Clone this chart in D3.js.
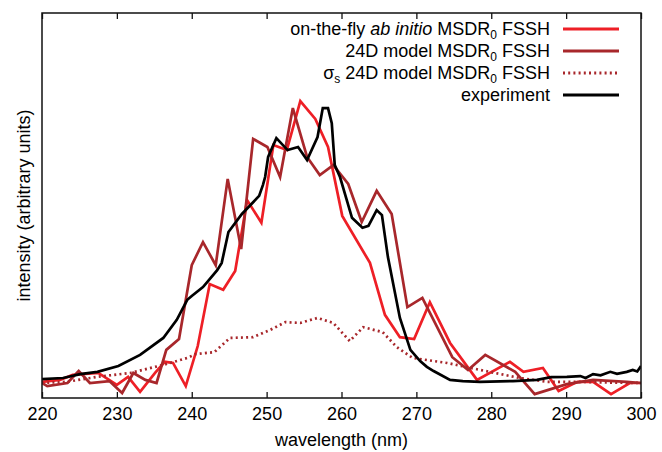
<!DOCTYPE html>
<html>
<head>
<meta charset="utf-8">
<script src="https://cdn.jsdelivr.net/npm/d3@7"></script>
<style>
  body { margin: 0; background: #fff; }
  text { font-family: "Liberation Sans", Arial, sans-serif; fill: #000; }
</style>
</head>
<body>
<div id="chart"></div>
<script>
// wavelength (nm) / intensity (arbitrary units, 0-100)
const onTheFlyNm = [220.0, 222.4, 224.1, 227.5, 230.0, 231.5, 233.1, 235.1, 236.4, 237.5, 239.2, 240.8,
  242.4, 244.2, 245.8, 247.4, 249.3, 250.9, 252.7, 254.5, 256.5, 258.2, 260.1, 263.8, 265.8, 267.8,
  269.7, 271.8, 274.5, 278.1, 282.5, 284.3, 286.9, 289.0, 291.5, 293.6, 296.0, 298.5, 300.0];
const onTheFlyI = [4.2, 4.7, 6.0, 6.5, 3.4, 5.5, 1.6, 6.5, 9.4, 9.1, 3.1, 13.5,
  29.6, 28.1, 33.0, 51.4, 45.5, 65.7, 64.4, 77.1, 72.5, 65.2, 47.3, 35.1, 21.6, 15.8,
  15.3, 24.9, 14.3, 4.7, 9.4, 6.8, 7.8, 1.8, 4.2, 4.2, 1.0, 3.9, 3.9];

const model24Nm = [220.0, 220.7, 223.4, 224.9, 226.4, 229.0, 230.7, 232.2, 233.8, 235.3, 236.6, 238.3,
  240.0, 241.5, 243.2, 244.8, 246.6, 248.2, 250.1, 251.8, 253.5, 255.4, 257.1, 258.9, 260.9, 262.7,
  264.7, 266.7, 268.8, 270.8, 274.8, 276.9, 279.2, 283.2, 285.8, 290.1, 293.6, 298.1, 300.0];
const model24I = [3.9, 3.1, 3.9, 7.0, 3.9, 4.4, 1.3, 6.5, 4.7, 3.9, 12.5, 15.3,
  34.5, 40.5, 34.5, 56.9, 38.7, 67.3, 65.2, 57.4, 75.3, 62.6, 57.9, 60.5, 55.6, 45.7,
  53.8, 47.8, 23.6, 26.0, 10.6, 7.3, 11.2, 6.8, 1.0, 3.6, 4.7, 4.2, 3.9];

const sigmaNm = [220.0, 223.3, 227.4, 231.8, 236.2, 239.4, 240.5, 243.0, 245.1, 248.2, 250.5, 252.5,
  254.5, 256.8, 258.9, 261.1, 262.9, 265.5, 267.4, 269.5, 274.1, 278.5, 283.8, 287.5, 291.9, 296.0, 300.0];
const sigmaI = [3.9, 4.2, 5.5, 6.5, 8.6, 10.4, 11.4, 11.9, 15.6, 15.8, 17.7, 19.7,
  19.5, 20.8, 19.5, 14.8, 18.4, 17.1, 13.2, 10.4, 9.1, 7.3, 5.2, 4.2, 4.2, 4.0, 3.9];

const exptNm = [220.0, 222.8, 225.1, 227.4, 230.2, 233.1, 236.2, 238.0, 239.4, 240.0, 241.5, 242.2,
  243.4, 244.0, 244.9, 246.7, 249.0, 249.5, 249.8, 250.2, 251.3, 252.8, 254.2, 255.4, 256.8, 257.5,
  258.2, 258.7, 259.1, 259.8, 261.4, 262.8, 263.6, 264.7, 265.4, 266.2, 267.8, 269.2, 270.5, 271.4,
  272.3, 274.5, 276.2, 278.5, 282.9, 286.1, 288.0, 290.1, 291.9, 292.6, 293.6, 294.6, 295.9, 296.8,
  298.1, 298.9, 299.5, 300.0];
const exptI = [4.9, 5.2, 6.2, 6.8, 8.3, 11.2, 15.6, 20.3, 25.5, 26.5, 28.8, 30.4,
  33.2, 35.1, 43.1, 47.8, 52.5, 55.3, 57.4, 62.6, 67.5, 64.4, 65.2, 61.8, 67.8, 75.3,
  75.3, 71.4, 60.5, 57.4, 46.8, 44.2, 44.7, 48.8, 47.5, 36.6, 20.8, 12.5, 9.6, 8.1,
  7.0, 4.7, 4.4, 4.2, 4.4, 4.7, 5.4, 5.5, 5.7, 5.2, 6.2, 5.9, 6.8, 6.3,
  6.8, 7.3, 6.9, 8.3];

const xTicks = [220, 230, 240, 250, 260, 270, 280, 290, 300];

const series = [
  { name: "fly", nm: onTheFlyNm, val: onTheFlyI, color: "#ee1f26", dash: null },
  { name: "model", nm: model24Nm, val: model24I, color: "#a8272b", dash: null },
  { name: "sigma", nm: sigmaNm, val: sigmaI, color: "#a8272b", dash: "2,3.2" },
  { name: "expt", nm: exptNm, val: exptI, color: "#000000", dash: null }
];

const W = 662, H = 452;
const margin = { top: 13, right: 21, bottom: 54, left: 42 };
const width = W - margin.left - margin.right,
      height = H - margin.top - margin.bottom;

const svg = d3.select("#chart").append("svg")
  .attr("width", W).attr("height", H);

const g = svg.append("g")
  .attr("transform", `translate(${margin.left},${margin.top})`);

const x = d3.scaleLinear().domain([220, 300]).range([0, width]);
const y = d3.scaleLinear().domain([0, 100]).range([height, 0]);

g.append("clipPath").attr("id", "plotclip")
  .append("rect").attr("width", width).attr("height", height);

// curves
const line = d3.line().x(d => x(d[0])).y(d => y(d[1]));
g.append("g").attr("clip-path", "url(#plotclip)")
  .selectAll("path")
  .data(series)
  .enter().append("path")
  .attr("d", s => line(s.nm.map((n, i) => [n, s.val[i]])))
  .attr("fill", "none")
  .attr("stroke", s => s.color)
  .attr("stroke-width", 2.7)
  .attr("stroke-linejoin", "miter")
  .attr("stroke-dasharray", s => s.dash);

// frame
g.append("rect")
  .attr("width", width).attr("height", height)
  .attr("fill", "none").attr("stroke", "#111").attr("stroke-width", 1.5);

// ticks (inward, top and bottom)
g.append("g")
  .attr("transform", `translate(0,${height})`)
  .call(d3.axisBottom(x).tickValues(xTicks).tickSizeInner(-6).tickSizeOuter(0).tickPadding(9))
  .call(a => a.select(".domain").remove())
  .call(a => a.selectAll("line").attr("stroke", "#111").attr("stroke-width", 1.3))
  .call(a => a.selectAll("text").attr("font-size", 18).attr("fill", "#000")
    .style("font-family", "'Liberation Sans', Arial, sans-serif"));

g.append("g")
  .call(d3.axisTop(x).tickValues(xTicks).tickSizeInner(-6).tickSizeOuter(0).tickFormat(""))
  .call(a => a.select(".domain").remove())
  .call(a => a.selectAll("line").attr("stroke", "#111").attr("stroke-width", 1.3));

// axis titles
svg.append("text")
  .attr("x", margin.left + width / 2).attr("y", 446)
  .attr("text-anchor", "middle").attr("font-size", 18)
  .text("wavelength (nm)");

svg.append("text")
  .attr("transform", `translate(30,${margin.top + height / 2}) rotate(-90)`)
  .attr("text-anchor", "middle").attr("font-size", 18)
  .text("intensity (arbitrary units)");

// legend
const legend = svg.append("g");
const rows = [
  { key: "fly", y: 35 },
  { key: "model", y: 57 },
  { key: "sigma", y: 79 },
  { key: "expt", y: 101 }
];
const textX = 550, lineX0 = 563, lineX1 = 619;

rows.forEach(r => {
  const s = series.find(d => d.name === r.key);
  const t = legend.append("text")
    .attr("x", textX).attr("y", r.y)
    .attr("text-anchor", "end").attr("font-size", 18);
  if (r.key === "fly") {
    t.append("tspan").text("on-the-fly ");
    t.append("tspan").attr("font-style", "italic").text("ab initio");
    t.append("tspan").text(" MSDR");
    t.append("tspan").attr("font-size", 12).attr("dy", 4).text("0");
    t.append("tspan").attr("dy", -4).text(" FSSH");
  } else if (r.key === "model") {
    t.append("tspan").text("24D model MSDR");
    t.append("tspan").attr("font-size", 12).attr("dy", 4).text("0");
    t.append("tspan").attr("dy", -4).text(" FSSH");
  } else if (r.key === "sigma") {
    t.append("tspan").text("σ");
    t.append("tspan").attr("font-size", 12).attr("dy", 4).text("s");
    t.append("tspan").attr("dy", -4).text(" 24D model MSDR");
    t.append("tspan").attr("font-size", 12).attr("dy", 4).text("0");
    t.append("tspan").attr("dy", -4).text(" FSSH");
  } else {
    t.text("experiment");
  }
  legend.append("line")
    .attr("x1", lineX0).attr("x2", lineX1)
    .attr("y1", r.y - 6).attr("y2", r.y - 6)
    .attr("stroke", s.color).attr("stroke-width", 2.8)
    .attr("stroke-dasharray", s.dash);
});
</script>
</body>
</html>
